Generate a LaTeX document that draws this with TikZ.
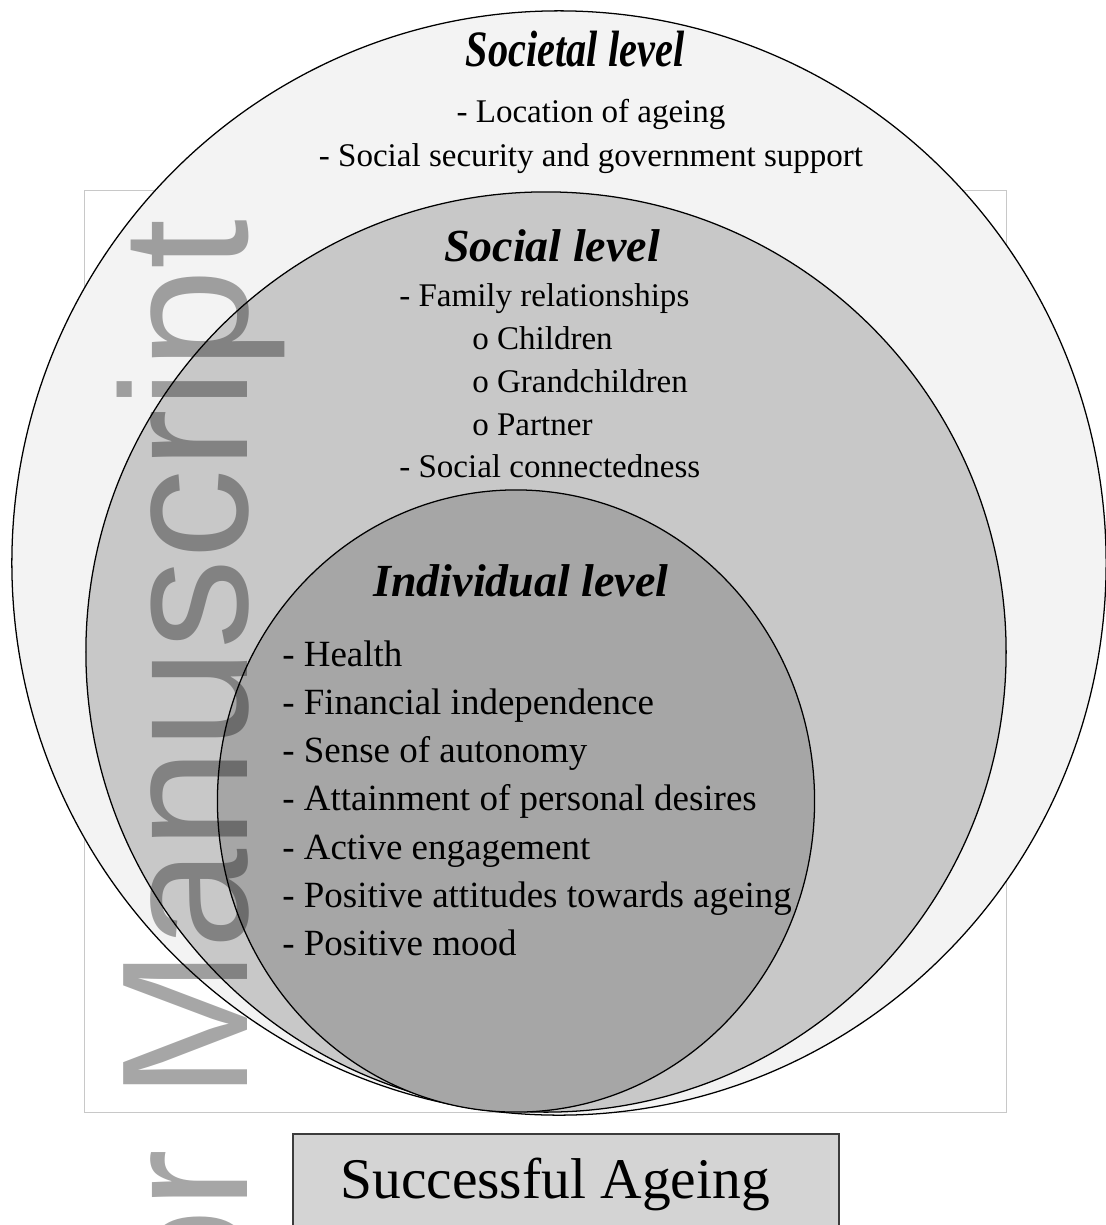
\documentclass[tikz,border=0pt]{standalone}
\usepackage{fontspec}
\usepackage{graphicx}
\setmainfont{Liberation Serif}
\newfontfamily\stampfont{Liberation Sans}
\definecolor{societalgray}{RGB}{243, 243, 243}
\definecolor{socialgray}{RGB}{200, 200, 200}
\definecolor{individualgray}{RGB}{166, 166, 166}
\definecolor{framegray}{RGB}{200, 200, 200}
\definecolor{goalgray}{RGB}{212, 212, 212}
\definecolor{goalline}{RGB}{60, 60, 60}

\begin{document}
\begin{tikzpicture}[x=0.025cm, y=-0.025cm,
    levelhead/.style={inner sep=0, anchor=base, font=\fontsize{32.7}{38}\selectfont\bfseries\itshape},
    bodyitem/.style={inner sep=0, anchor=base west, font=\fontsize{23.5}{28}\selectfont},
    coreitem/.style={inner sep=0, anchor=base west, font=\fontsize{26.3}{32}\selectfont}]
            \clip (0,0) rectangle (1106,1225);
            % Page frame
            \draw[color=framegray, line width=0.6pt] (84.5,190.5) rectangle (1006,1112.5);
            % Societal level
            \filldraw[color=black, fill=societalgray,   line width=0.9pt] (559,563) ellipse (13.675cm and 13.8cm);
            % Social level
            \filldraw[color=black, fill=socialgray,     line width=0.9pt] (546,652) circle (11.5cm);
            % Individual level
            \filldraw[color=black, fill=individualgray, line width=0.9pt] (516,801) ellipse (7.4625cm and 7.775cm);
            % Societal texts
            \node[levelhead, font=\fontsize{36.3}{42}\selectfont\bfseries\itshape] (societal) at (575,66) {\scalebox{0.79}[1]{Societal level}};
            \node[bodyitem, anchor=base] (location) at (591,122) {- Location of ageing};
            \node[bodyitem, anchor=base] (security) at (591,166) {- Social security and government support};
            % Social texts
            \node[levelhead] (social)    at (552,261) {Social level};
            \node[bodyitem]  (family)    at (399,306) {- Family relationships};
            \node[bodyitem]  (children)  at (472,349) {o Children};
            \node[bodyitem]  (grandkids) at (472,392) {o Grandchildren};
            \node[bodyitem]  (partner)   at (472,435) {o Partner};
            \node[bodyitem]  (connected) at (399,477) {- Social connectedness};
            % Individual texts
            \node[levelhead] (individual) at (521,596) {Individual level};
            \node[coreitem]  (health)     at (282,666) {- Health};
            \node[coreitem]  (finance)    at (282,714) {- Financial independence};
            \node[coreitem]  (autonomy)   at (282,762) {- Sense of autonomy};
            \node[coreitem]  (desires)    at (282,810) {- Attainment of personal desires};
            \node[coreitem]  (engage)     at (282,859) {- Active engagement};
            \node[coreitem]  (attitudes)  at (282,907) {- Positive attitudes towards ageing};
            \node[coreitem]  (mood)       at (282,955) {- Positive mood};
            % Outcome box
            \filldraw[color=goalline, fill=goalgray, line width=0.9pt] (293,1134) rectangle (839,1260);
            \node[inner sep=0, anchor=base west, font=\fontsize{40.9}{48}\selectfont] (goal) at (340,1198) {Successful Ageing};
            % Watermark
            \node[rotate=90, anchor=base east, inner sep=0, text=black, text opacity=0.35,
                  font=\stampfont\fontsize{128}{128}\selectfont] (stamp) at (247,219) {Author Manuscript};
        \end{tikzpicture}
\end{document}
